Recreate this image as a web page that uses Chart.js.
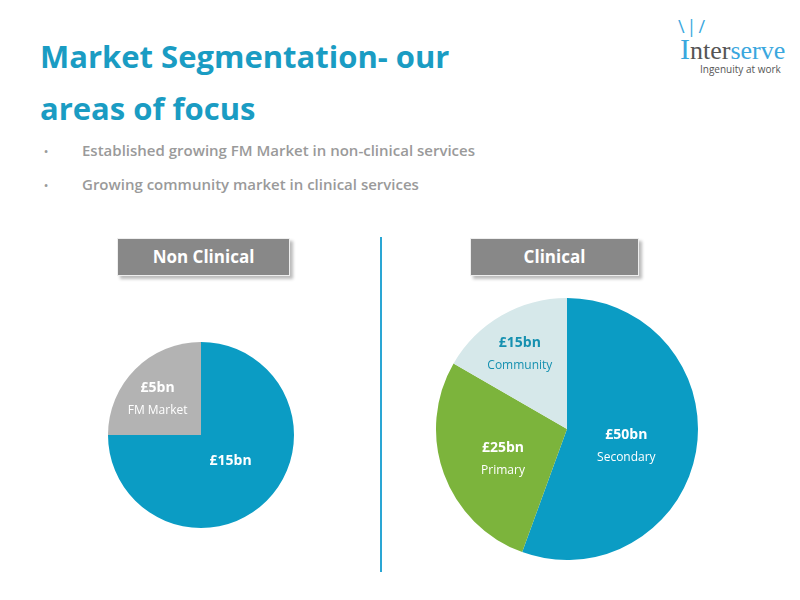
<!DOCTYPE html>
<html><head><meta charset="utf-8">
<script src="https://cdn.jsdelivr.net/npm/chart.js@4"></script>
<style>
body{margin:0;width:800px;height:600px;background:#fff;font-family:"Open Sans",sans-serif;position:relative;overflow:hidden}
h1{position:absolute;left:40px;top:30px;margin:0;color:#1a9cc3;font-size:31px;line-height:52px;font-weight:bold}
ul{position:absolute;left:40px;top:140px;margin:0;padding:0;list-style:none;color:#9a9a9a;font-size:15px;font-weight:600}
li{margin-bottom:14px}
li span{display:inline-block;width:38px;font-size:11px;padding-left:4px}
.tag{position:absolute;top:238px;height:36px;background:#888;color:#fff;font-weight:bold;font-size:17px;text-align:center;line-height:36px;box-shadow:3px 3px 3px #bbb;border:1px solid #eee}
.vline{position:absolute;left:380px;top:237px;width:2px;height:335px;background:#2aa6d4}
canvas{position:absolute}
.logo{position:absolute;left:660px;top:14px}
</style></head><body>
<h1>Market Segmentation- our<br>areas of focus</h1>
<ul><li><span>•</span>Established growing FM Market in non-clinical services</li>
<li><span>•</span>Growing community market in clinical services</li></ul>
<div class="tag" style="left:117px;width:171px">Non Clinical</div>
<div class="tag" style="left:470px;width:167px">Clinical</div>
<div class="vline"></div>
<div class="logo"><div style="color:#3aa7de;font-size:18px;padding-left:18px;letter-spacing:2px">\|/</div>
<div style="font-family:'Liberation Serif',serif;font-size:26px;color:#555;padding-left:20px;margin-top:-6px"><span style="color:#3aa7de;font-size:30px">I</span>nter<span style="color:#3aa7de">serve</span></div>
<div style="font-size:10px;color:#555;margin-left:40px;margin-top:-4px">Ingenuity at work</div></div>
<canvas id="left" style="left:106px;top:340px" width="190" height="190"></canvas>
<canvas id="right" style="left:434px;top:296px" width="266" height="266"></canvas>
<script>
const leftValues = [15, 5];
const leftNames = ["", "FM Market"];
const leftColors = ["#0b9cc4", "#b3b3b3"];
const rightValues = [50, 25, 15];
const rightNames = ["Secondary", "Primary", "Community"];
const rightColors = ["#0b9cc4", "#7cb43c", "#d6e8ea"];

const labelPlugin = {
  id: "labels",
  afterDraw(chart) {
    const o = chart.options.plugins.labels;
    const ctx = chart.ctx;
    chart.getDatasetMeta(0).data.forEach((arc, i) => {
      const mid = (arc.startAngle + arc.endAngle) / 2;
      const r = arc.outerRadius * o.dist[i];
      const x = arc.x + Math.cos(mid) * r, y = arc.y + Math.sin(mid) * r;
      ctx.save();
      ctx.textAlign = "center";
      ctx.fillStyle = o.color[i];
      ctx.font = "bold 14px 'Open Sans'";
      ctx.fillText("£" + chart.data.datasets[0].data[i] + "bn", x, y);
      ctx.font = "12px 'Open Sans'";
      if (o.names[i]) ctx.fillText(o.names[i], x, y + 22);
      ctx.restore();
    });
  }
};

function pie(id, values, colors, names, dist, textColors) {
  new Chart(document.getElementById(id), {
    type: "pie",
    data: { labels: names, datasets: [{ data: values, backgroundColor: colors, borderWidth: 0 }] },
    options: {
      responsive: false, animation: false,
      layout: { padding: 2 },
      plugins: { legend: { display: false }, tooltip: { enabled: false },
        labels: { dist: dist, names: names, color: textColors } }
    },
    plugins: [labelPlugin]
  });
}
pie("left", leftValues, leftColors, leftNames, [0.45, 0.66], ["#fff", "#fff"]);
pie("right", rightValues, rightColors, rightNames, [0.46, 0.52, 0.72], ["#fff", "#fff", "#1590b0"]);
</script>
</body></html>
